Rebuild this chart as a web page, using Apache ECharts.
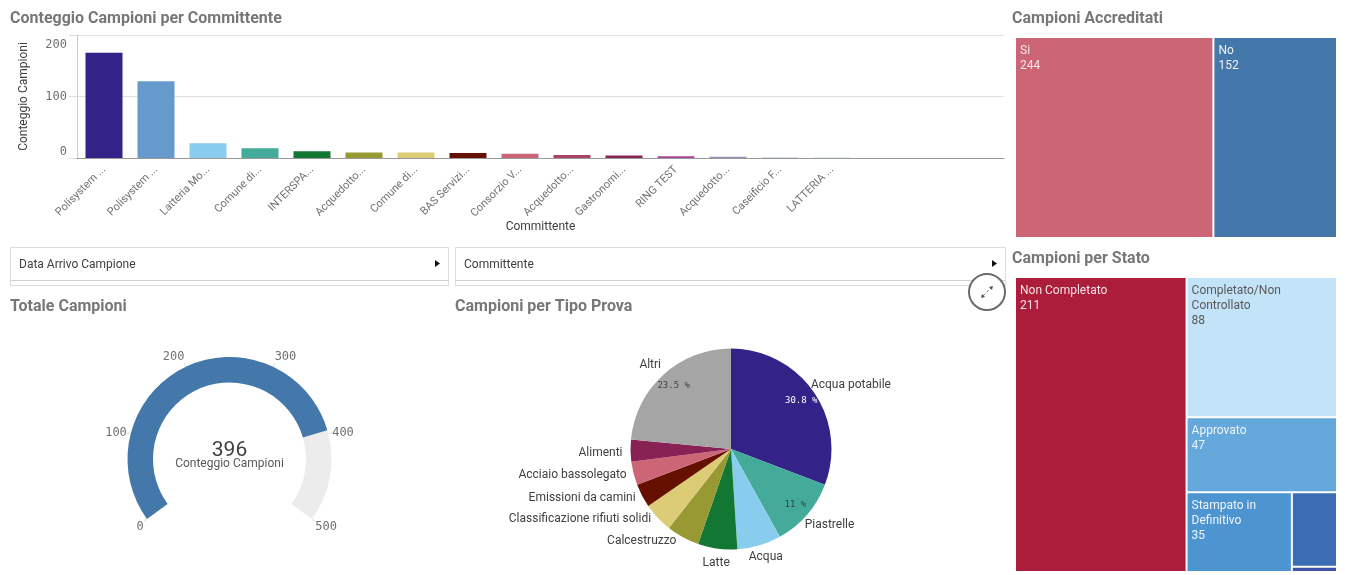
<!DOCTYPE html>
<html>
<head>
<meta charset="utf-8">
<title>Campioni</title>
<script src="https://cdn.jsdelivr.net/npm/echarts@6/dist/echarts.min.js"></script>
<style>
html,body{margin:0;padding:0;background:#fff;}
#main{width:1345px;height:575px;}
</style>
</head>
<body>
<div id="main"></div>
<script>
// Conteggio Campioni per Committente
var committenti = ['Polisystem ...','Polisystem ...','Latteria Mo...','Comune di...','INTERSPA...','Acquedotto...','Comune di...','BAS Servizi...','Consorzio V...','Acquedotto...','Gastronomi...','RING TEST','Acquedotto...','Caseificio F...','LATTERIA ...','','',''];
var conteggi = [171,125,24,16,11,9,9,8,7,5,4,3,2,1,1];
var coloriBarre = ['#332288','#6699cc','#88ccee','#44aa99','#117733','#999933','#ddcc77','#661100','#cc6677','#aa4466','#882255','#aa4499','#9393bb','#aabbd6','#c5dde8'];

// Totale Campioni
var totale = 396;
var totaleMax = 500;

// Campioni per Tipo Prova
var tipiProva = ['Acqua potabile','Piastrelle','Acqua','Latte','Calcestruzzo','Classificazione rifiuti solidi','Emissioni da camini','Acciaio bassolegato','Alimenti','Altri'];
var campioniProva = [122,44,28,25,21,19,15,15,14,93];
var coloriProva = ['#332288','#44aa99','#88ccee','#117733','#999933','#ddcc77','#661100','#cc6677','#882255','#a5a5a5'];
var percentuali = ['30.8 %','11 %','','','','','','','','23.5 %'];
var coloriPercentuali = ['#ffffff','#404040','','','','','','','','#404040'];

// Campioni Accreditati
var accreditati = ['Si','No'];
var accreditatiValori = [244,152];
var accreditatiColori = ['#cc6677','#4477aa'];

// Campioni per Stato
var stati = ['Non Completato','Completato/Non Controllato','Approvato','Stampato in Definitivo','',''];
var statiValori = [211,88,47,35,14,1];
var statiColori = ['#ab1d3b','#c3e3f8','#64a8dc','#4c95d0','#3c6cb4','#3f51a8'];
var statiTesto = ['#f3e3e6','#595959','#f0f5fa','#f0f5fa','',''];

var fontTesto = 'Roboto, sans-serif';
var fontMono = '"DejaVu Sans Mono", monospace';

function titolo(testo, x, y) {
	return {
		text: testo, left: x, top: y, padding: 0,
		textStyle: {color: '#777777', fontFamily: 'Roboto', fontWeight: 'bold', fontSize: 16}
	};
}

function mappa(nomi, valori, colori, testi, box) {
	var dati = [];
	for (var i = 0; i < nomi.length; i++) {
		dati.push({
			name: nomi[i],
			value: valori[i],
			itemStyle: {color: colori[i]},
			label: {show: nomi[i] !== '', color: testi[i]}
		});
	}
	return {
		type: 'treemap',
		left: box[0], top: box[1], width: box[2], height: box[3],
		roam: false, nodeClick: false, silent: true,
		squareRatio: 1,
		breadcrumb: {show: false},
		itemStyle: {borderColor: '#fff', borderWidth: 0, gapWidth: 2},
		label: {
			position: 'insideTopLeft',
			formatter: '{b}\n{c}',
			fontFamily: fontTesto, fontSize: 12, lineHeight: 15,
			overflow: 'break', padding: [5, 4]
		},
		data: dati
	};
}

function filtro(x, w, testo) {
	return [
		{type: 'rect', shape: {x: x + 0.5, y: 247.5, width: w, height: 38}, style: {fill: '#fff', stroke: '#dcdcdc', lineWidth: 1}},
		{type: 'line', shape: {x1: x, y1: 280.5, x2: x + w, y2: 280.5}, style: {stroke: '#cfcfcf', lineWidth: 1}},
		{type: 'text', x: x + 9, y: 264.5, style: {text: testo, fill: '#404040', font: '12px ' + fontTesto, textVerticalAlign: 'middle'}},
		{type: 'polygon', shape: {points: [[x + w - 13, 260], [x + w - 13, 267], [x + w - 8, 263.5]]}, style: {fill: '#111'}}
	];
}

var myChart = echarts.init(document.getElementById('main'));

var decorazioni = filtro(10, 438, 'Data Arrivo Campione').concat(filtro(455, 550, 'Committente'));
// pulsante espandi
decorazioni.push({type: 'circle', z: 20, shape: {cx: 987, cy: 292, r: 18}, style: {fill: '#fff', stroke: '#6b6b6b', lineWidth: 2}});
decorazioni.push({type: 'line', z: 21, shape: {x1: 983, y1: 296, x2: 991, y2: 288}, style: {stroke: '#777', lineWidth: 1, lineDash: [3, 2]}});
decorazioni.push({type: 'polygon', z: 21, shape: {points: [[993, 286], [989, 287], [992, 290]]}, style: {fill: '#555'}});
decorazioni.push({type: 'polygon', z: 21, shape: {points: [[981, 298], [985, 297], [982, 294]]}, style: {fill: '#555'}});

// piccoli spostamenti delle etichette della torta
var spostaEtichette = [[-12,-4],[-11,7],[-17,7],[18,9],[1,-1],[2,-2],[3,0],[3,0],[2,2],[6,-6]];

var option = {
	backgroundColor: '#fff',
	animation: false,
	title: [
		titolo('Conteggio Campioni per Committente', 10, 11),
		titolo('Campioni Accreditati', 1012, 11),
		titolo('Totale Campioni', 10, 299),
		titolo('Campioni per Tipo Prova', 455, 299),
		titolo('Campioni per Stato', 1012, 251)
	],
	graphic: decorazioni,
	grid: [
		{left: 77, top: 35, width: 927, height: 123},
		{left: 78, top: 35, width: 936, height: 123}
	],
	xAxis: [
		{
			gridIndex: 0, type: 'value', min: 0, max: 1,
			name: 'Committente', nameLocation: 'middle', nameGap: 63,
			nameTextStyle: {color: '#404040', fontFamily: fontTesto, fontSize: 12},
			axisLine: {show: true, lineStyle: {color: '#999', width: 1}},
			axisTick: {show: false}, axisLabel: {show: false}, splitLine: {show: false}
		},
		{
			gridIndex: 1, type: 'category', data: committenti,
			axisLine: {show: false}, axisTick: {show: false},
			axisLabel: {interval: 0, rotate: 45, margin: 10, color: '#707070', fontFamily: fontTesto, fontSize: 11}
		}
	],
	yAxis: [
		{
			gridIndex: 0, type: 'value', min: 0, max: 200, interval: 100,
			name: 'Conteggio Campioni', nameLocation: 'middle', nameGap: 47,
			nameTextStyle: {color: '#404040', fontFamily: fontTesto, fontSize: 12},
			axisLine: {show: true, lineStyle: {color: '#cccccc', width: 1}},
			axisTick: {show: true, length: 8, lineStyle: {color: '#dddddd'}},
			axisLabel: {margin: 10, color: '#707070', fontFamily: fontMono, fontSize: 12, padding: [4, 0, 0, 0], verticalAlignMinLabel: 'bottom', verticalAlignMaxLabel: 'top'},
			splitLine: {show: true, lineStyle: {color: '#e0e0e0', width: 1}}
		},
		{gridIndex: 1, type: 'value', min: 0, max: 200, show: false}
	],
	polar: {center: [229.5, 459], radius: [0, 102]},
	angleAxis: {
		type: 'value', min: 0, max: totaleMax, interval: 100,
		startAngle: 216, endAngle: -36, clockwise: true,
		axisLine: {show: false},
		axisTick: {show: true, length: 4, lineStyle: {color: '#dddddd'}},
		axisLabel: {margin: 4, color: '#707070', fontFamily: fontMono, fontSize: 12},
		splitLine: {show: false}
	},
	radiusAxis: {type: 'value', min: 0, max: 1, show: false},
	series: [
		{
			type: 'bar', xAxisIndex: 1, yAxisIndex: 1, barWidth: 37, silent: true,
			data: conteggi.map(function (v, i) {
				return {value: v, itemStyle: {color: coloriBarre[i]}};
			})
		},
		{
			type: 'gauge', center: [229.5, 459], radius: 102,
			startAngle: 216, endAngle: -36, min: 0, max: totaleMax, splitNumber: 5, silent: true,
			axisLine: {lineStyle: {width: 25.5, color: [[totale / totaleMax, '#4477aa'], [1, '#ececec']]}},
			pointer: {show: false}, progress: {show: false},
			axisTick: {show: false}, splitLine: {show: false}, axisLabel: {show: false},
			title: {offsetCenter: [0, 5], color: '#595959', fontFamily: fontTesto, fontSize: 12},
			detail: {offsetCenter: [0, -8], formatter: '{value}', color: '#404040', fontFamily: fontTesto, fontSize: 21, fontWeight: 'normal'},
			data: [{value: totale, name: 'Conteggio Campioni'}]
		},
		{
			type: 'pie', center: [731, 449], radius: 100.5, startAngle: 90, clockwise: true, silent: true,
			avoidLabelOverlap: false,
			label: {position: 'outside', color: '#404040', fontFamily: fontTesto, fontSize: 12},
			labelLine: {show: false, length: 5, length2: 0},
			labelLayout: function (params) {
				var s = spostaEtichette[params.dataIndex];
				return {dx: s[0], dy: s[1]};
			},
			data: tipiProva.map(function (n, i) {
				return {name: n, value: campioniProva[i], itemStyle: {color: coloriProva[i]}};
			})
		},
		{
			type: 'pie', center: [731, 449], radius: [64, 100.5], startAngle: 90, silent: true,
			avoidLabelOverlap: false,
			label: {position: 'inner', fontFamily: fontMono, fontSize: 9},
			labelLine: {show: false},
			data: tipiProva.map(function (n, i) {
				return {
					name: n, value: campioniProva[i],
					itemStyle: {color: 'rgba(0,0,0,0)'},
					label: {show: percentuali[i] !== '', formatter: percentuali[i], color: coloriPercentuali[i]}
				};
			})
		},
		mappa(accreditati, accreditatiValori, accreditatiColori, ['#f5e6e9', '#eef3f8'], [1016, 38, 320, 199]),
		mappa(stati, statiValori, statiColori, statiTesto, [1016, 278, 320, 293])
	]
};

myChart.setOption(option);
window.onresize = myChart.resize;
</script>
</body>
</html>
